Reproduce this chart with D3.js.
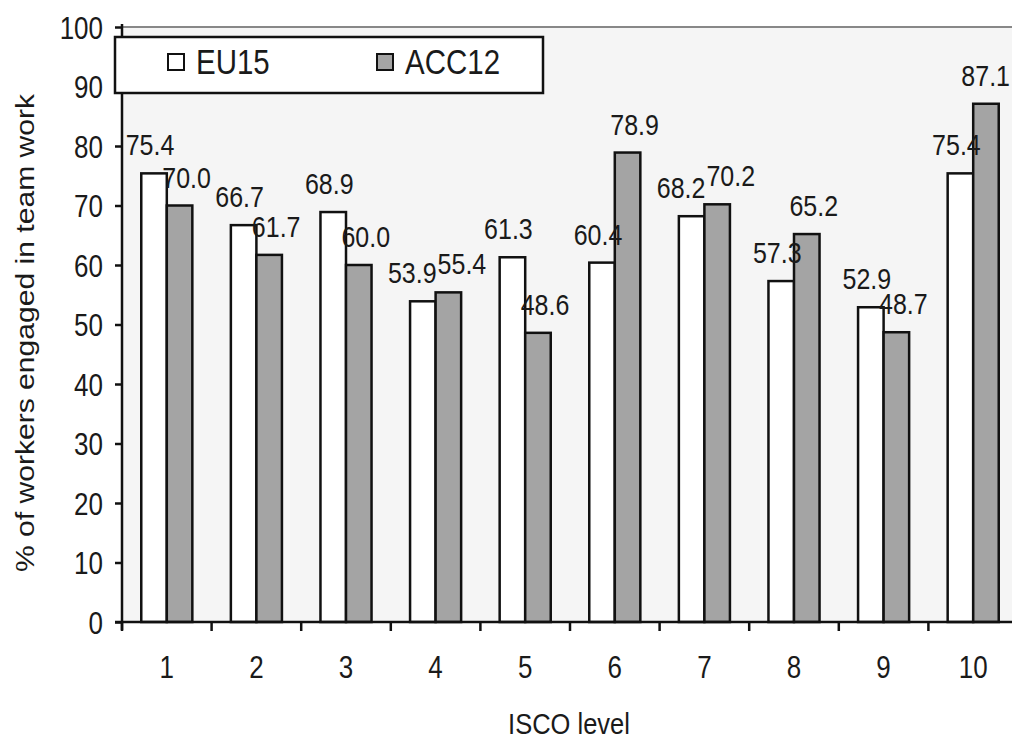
<!DOCTYPE html>
<html>
<head>
<meta charset="utf-8">
<script src="https://cdn.jsdelivr.net/npm/d3@7"></script>
<style>
  html, body { margin: 0; padding: 0; background: #ffffff; }
  svg { display: block; }
  text { font-family: "Liberation Sans", Arial, sans-serif; fill: #1a1a1a; }
</style>
</head>
<body>
<svg id="chart" width="1012" height="740"></svg>
<script>
// ---- data ----
const categories = ["1", "2", "3", "4", "5", "6", "7", "8", "9", "10"];
const seriesNames = ["EU15", "ACC12"];
const eu15 = [75.4, 66.7, 68.9, 53.9, 61.3, 60.4, 68.2, 57.3, 52.9, 75.4];
const acc12 = [70.0, 61.7, 60.0, 55.4, 48.6, 78.9, 70.2, 65.2, 48.7, 87.1];
const yTicks = [0, 10, 20, 30, 40, 50, 60, 70, 80, 90, 100];
const xTitle = "ISCO level";
const yTitle = "% of workers engaged in team work";

(function () {
// ---- layout ----
const W = 1012;
const svg = d3.select("#chart");
const pLeft = 122, pRight = 1018, pTop = 27, pBottom = 622;
const VS = 1.18; // vertical stretch of the scanned original's text
const colors = { EU15: "#ffffff", ACC12: "#a4a4a4" };
const labelShift = { EU15: -4, ACC12: 7 };
const labelGap = 18, labelH = 22;

const y = d3.scaleLinear().domain([0, 100]).range([pBottom, pTop]);
const x = d3.scaleBand().domain(categories).range([pLeft, pRight]).padding(0);
const gapFrac = 0.215;
const xs = d3.scaleBand().domain(seriesNames)
  .range([x.step() * gapFrac, x.step() * (1 - gapFrac)]).padding(0);

const rows = categories.map((c, i) => ({ cat: c, EU15: eu15[i], ACC12: acc12[i] }));

// plot background
svg.append("rect").attr("x", pLeft).attr("y", pTop)
  .attr("width", pRight - pLeft).attr("height", pBottom - pTop)
  .attr("fill", "#f5f5f5");

// top border of plot area
svg.append("line").attr("x1", pLeft).attr("x2", pRight)
  .attr("y1", pTop).attr("y2", pTop)
  .attr("stroke", "#888").attr("stroke-width", 2);

// bars
const groups = svg.append("g").selectAll("g").data(rows).join("g")
  .attr("transform", d => `translate(${x(d.cat)},0)`);

groups.selectAll("rect")
  .data(d => seriesNames.map(s => ({ s, v: d[s], cat: d.cat })))
  .join("rect")
  .attr("x", d => xs(d.s))
  .attr("y", d => y(d.v))
  .attr("width", xs.bandwidth())
  .attr("height", d => y(0) - y(d.v))
  .attr("fill", d => colors[d.s])
  .attr("stroke", "#111")
  .attr("stroke-width", 2.5);

// value labels: centred over bars, pushed apart when the pair collides,
// and kept inside the visible width
groups.each(function () {
  const g = d3.select(this);
  const labels = g.selectAll("text.val")
    .data(d => seriesNames.map(s => ({ s, v: d[s], cat: d.cat })))
    .join("text")
    .attr("class", "val")
    .attr("text-anchor", "middle")
    .attr("font-size", 25)
    .text(d => d.v.toFixed(1));
  const info = [];
  labels.each(function (d) {
    info.push({
      el: this, d,
      w: this.getComputedTextLength(),
      cx: xs(d.s) + xs.bandwidth() / 2 + labelShift[d.s],
      by: y(d.v) - labelGap
    });
  });
  const [a, b] = info;
  const need = (a.w + b.w) / 2 + 1 - (b.cx - a.cx);
  if (need > 0 && Math.abs(a.by - b.by) < labelH) {
    a.cx -= need / 2;
    b.cx += need / 2;
  }
  info.forEach(o => {
    const maxCx = W - 2 - o.w / 2 - x(o.d.cat);
    o.cx = Math.min(o.cx, maxCx);
    d3.select(o.el).attr("transform", `translate(${o.cx},${o.by}) scale(1,${VS})`);
  });
});

// y axis
const yAxis = svg.append("g").attr("transform", `translate(${pLeft},0)`)
  .call(d3.axisLeft(y).tickValues(yTicks).tickSize(7).tickPadding(12).tickFormat(d3.format("d")));
yAxis.select(".domain").attr("stroke", "#111").attr("stroke-width", 2.5)
  .attr("d", `M0,${pTop - 3}V${pBottom + 8}`);
yAxis.selectAll(".tick line").attr("stroke", "#111").attr("stroke-width", 2.5);
yAxis.selectAll(".tick text")
  .attr("font-size", 26).attr("fill", "#1a1a1a")
  .attr("font-family", "Liberation Sans, Arial, sans-serif")
  .attr("dy", "0.36em")
  .attr("transform", `scale(1,${VS})`);

// x axis line
svg.append("line").attr("x1", pLeft - 7).attr("x2", pRight)
  .attr("y1", pBottom).attr("y2", pBottom)
  .attr("stroke", "#111").attr("stroke-width", 2.5);

// boundary ticks
const boundaries = categories.map(c => x(c)).concat([x(categories[categories.length - 1]) + x.step()]);
svg.append("g").selectAll("line").data(boundaries).join("line")
  .attr("x1", d => d).attr("x2", d => d)
  .attr("y1", pBottom).attr("y2", pBottom + 9)
  .attr("stroke", "#111").attr("stroke-width", 2.5);

// category labels
const xAxis = svg.append("g").attr("transform", `translate(0,${pBottom})`)
  .call(d3.axisBottom(x).tickSize(0).tickPadding(0));
xAxis.select(".domain").remove();
xAxis.selectAll(".tick text")
  .attr("font-size", 26).attr("fill", "#1a1a1a")
  .attr("font-family", "Liberation Sans, Arial, sans-serif")
  .attr("y", 0).attr("dy", 0)
  .attr("transform", `translate(0,56) scale(1,${VS})`);

// axis titles
svg.append("text")
  .attr("text-anchor", "middle")
  .attr("font-size", 25.5)
  .attr("transform", `translate(569,734) scale(1,${VS})`)
  .text(xTitle);

svg.append("text")
  .attr("text-anchor", "middle")
  .attr("font-size", 25.5)
  .attr("transform", `translate(34,333) scale(1,${VS}) rotate(-90)`)
  .text(yTitle);

// legend
const lg = svg.append("g");
lg.append("rect").attr("x", 115).attr("y", 37).attr("width", 428).attr("height", 56)
  .attr("fill", "#ffffff").attr("stroke", "#111").attr("stroke-width", 2.5);
const legendPos = { EU15: 168, ACC12: 377 };
seriesNames.forEach(s => {
  lg.append("rect").attr("x", legendPos[s]).attr("y", 54).attr("width", 16).attr("height", 16)
    .attr("fill", colors[s]).attr("stroke", "#111").attr("stroke-width", 2);
  lg.append("text").attr("font-size", 29.5)
    .attr("transform", `translate(${legendPos[s] + 28},74) scale(1,${VS})`)
    .text(s);
});
})();
</script>
</body>
</html>
